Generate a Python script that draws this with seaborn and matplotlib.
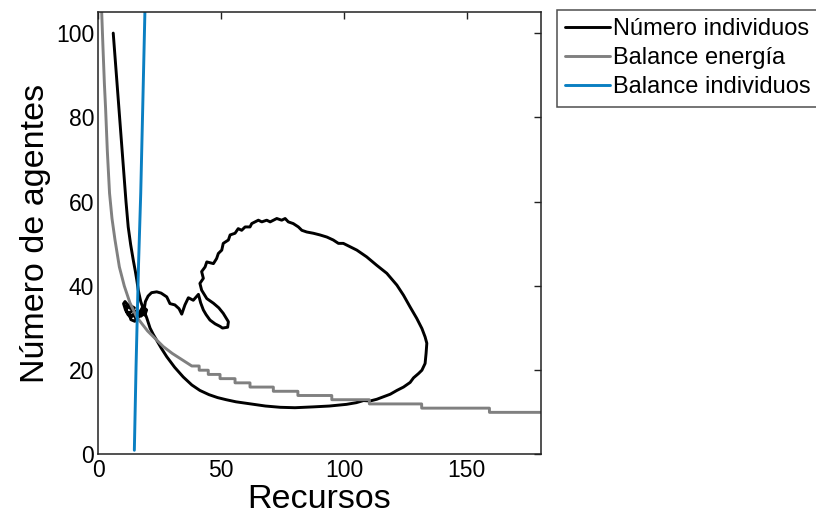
import numpy as np
import pandas as pd
import matplotlib
matplotlib.use("Agg")
import matplotlib.pyplot as plt
import seaborn as sns

# Simulated trajectory: resources (x) against number of agents (y)
traj_x = [6.0, 7.3, 8.6, 9.9, 11.2, 12.1, 13.1, 14.2, 15.0, 15.6, 16.2,
          17.2, 18.4, 19.6, 21.0, 22.3, 23.7, 25.6, 27.8, 31.0, 34.5, 38.0, 41.3, 45.0,
          48.5, 52.0, 56.0, 62.0, 68.0, 74.0, 80.0, 87.5, 94.0, 101.0, 105.0, 107.9,
          110.6, 113.3, 116.0, 118.8, 121.5, 124.2, 126.9, 128.3, 130.3, 131.7, 133.0,
          133.4, 133.7, 133.0, 131.7, 129.6, 126.9, 124.2, 121.5, 117.4, 113.3, 109.2,
          105.2, 102.4, 99.7, 97.7, 95.6, 93.0, 90.2, 87.5, 84.8, 82.8, 81.4, 79.3, 77.3,
          76.0, 74.6, 72.6, 69.9, 68.5, 66.5, 65.1, 63.7, 62.4, 61.7, 59.7, 58.3, 56.9,
          55.6, 53.6, 52.9, 50.8, 50.2, 48.8, 48.1, 46.8, 44.1, 43.4, 42.0, 42.7, 41.3,
          42.0, 44.1, 46.8, 49.0, 50.8, 52.9, 52.6, 50.5, 49.5, 47.5, 45.4, 43.8, 42.7,
          41.6, 40.7, 38.6, 36.6, 35.2, 33.9, 32.8, 31.1, 29.1, 27.8, 25.5, 23.7, 21.6,
          20.2, 19.1, 18.7, 19.6, 18.9, 17.6, 16.2, 14.6, 13.0, 12.0, 11.0, 10.2, 10.8,
          11.8, 12.8, 14.6, 13.6, 12.4, 13.2, 14.8, 16.4, 17.8, 18.6, 17.2, 15.8, 14.0,
          12.2, 11.2, 11.6, 13.0, 14.4, 15.2]
traj_y = [100.0, 90.0, 80.0, 70.0, 60.0, 54.0, 49.8, 46.0, 43.5, 41.4,
          39.0, 36.3, 34.3, 32.5, 30.0, 28.5, 27.1, 25.2, 23.2, 20.7, 18.4, 16.5, 15.2,
          14.2, 13.5, 13.0, 12.5, 12.0, 11.5, 11.2, 11.1, 11.3, 11.5, 11.9, 12.3, 12.8,
          12.7, 13.1, 13.7, 14.3, 15.2, 16.0, 17.1, 18.2, 19.2, 20.0, 21.6, 24.0, 26.4,
          27.9, 29.9, 32.3, 35.0, 37.8, 40.2, 43.0, 44.9, 46.9, 48.5, 49.3, 50.1, 50.1,
          50.9, 51.6, 52.1, 52.5, 52.8, 53.2, 54.0, 54.8, 55.2, 56.0, 55.6, 56.0, 55.2,
          55.6, 55.2, 55.6, 55.2, 54.8, 54.0, 54.0, 53.2, 53.6, 52.5, 52.1, 50.9, 50.1,
          48.5, 47.7, 46.5, 45.3, 45.7, 44.5, 43.4, 41.8, 40.6, 39.0, 37.0, 35.9, 34.8,
          33.5, 31.5, 30.2, 30.0, 30.4, 31.0, 31.9, 33.2, 34.3, 36.0, 38.0, 36.6, 37.2,
          35.5, 33.3, 34.6, 35.5, 35.8, 37.4, 38.3, 38.6, 38.4, 37.6, 36.3, 34.8, 34.3,
          33.1, 33.6, 32.6, 33.0, 32.6, 33.2, 34.3, 35.8, 36.3, 35.6, 35.4, 34.8, 34.0,
          33.6, 32.0, 31.6, 33.4, 34.8, 33.4, 32.8, 33.6, 34.4, 34.9, 35.2, 33.8, 32.9,
          33.3, 32.4]

# Energy-balance curve: smooth upper branch followed by integer steps
energy_x = [1.3, 1.8, 2.4, 2.9, 3.6, 4.5, 5.5, 6.7, 8.5, 10.5, 12.8, 15.6, 20.0, 26.4,
            30.0, 33.2, 38.0]
energy_y = [105.0, 97.0, 88.0, 82.0, 72.0, 62.0, 56.0, 51.0, 44.5, 40.0, 36.0, 32.6,
            29.3, 25.6, 24.0, 22.8, 21.0]
step_start = [38.0, 41.0, 44.7, 49.5, 55.6, 61.7, 71.2, 81.2, 95.0, 110.3, 131.6, 159.2]
step_level = [21, 20, 19, 18, 17, 16, 15, 14, 13, 12, 11, 10]
step_end_x = 180.0

# Individual-balance curve (almost vertical)
indiv_x = [14.6, 15.3, 15.8, 16.3, 17.2, 18.0, 18.9]
indiv_y = [1.0, 21.0, 33.0, 45.0, 62.0, 82.0, 105.0]

x_ticks = [0, 50, 100, 150]
y_ticks = [0, 20, 40, 60, 80, 100]

sns.set_style("white")
plt.rcParams["font.family"] = ["Liberation Sans", "DejaVu Sans"]
plt.rcParams.update({"text.color": "black", "axes.labelcolor": "black",
                     "xtick.color": "black", "ytick.color": "black"})

fig = plt.figure(figsize=(8.16, 5.16), dpi=100)
ax = fig.add_axes([0.1207, 0.1192, 0.5417, 0.8575])

# step vertices of the energy-balance curve
edges = step_start + [step_end_x]
sx, sy = [], []
for i, lvl in enumerate(step_level):
    sx += [edges[i], edges[i + 1]]
    sy += [lvl, lvl]
energy = pd.DataFrame({"x": energy_x + sx, "y": energy_y + sy})

traj = pd.DataFrame({"x": traj_x, "y": traj_y})
indiv = pd.DataFrame({"x": indiv_x, "y": indiv_y})

lw = 2.1
sns.lineplot(data=traj, x="x", y="y", sort=False, estimator=None, color="black",
             lw=lw, label="Número individuos", ax=ax)
sns.lineplot(data=energy, x="x", y="y", sort=False, estimator=None, color="#808080",
             lw=lw, label="Balance energía", ax=ax)
sns.lineplot(data=indiv, x="x", y="y", sort=False, estimator=None, color="#0a7fc2",
             lw=lw, label="Balance individuos", ax=ax)

ax.set_xlim(0, 180)
ax.set_ylim(0, 105)
ax.set_xticks(x_ticks)
ax.set_yticks(y_ticks)
ax.tick_params(direction="in", top=True, right=True, length=5, width=1,
               labelsize=16.5, color="#222222", pad=3)
for s in ax.spines.values():
    s.set_color("#222222")
    s.set_linewidth(1.1)

ax.set_xlabel("Recursos", fontsize=24.5, labelpad=2)
ax.set_ylabel("Número de agentes", fontsize=24.5, labelpad=4)

leg = ax.legend(loc="upper left", bbox_to_anchor=(0.6826, 0.9806),
                bbox_transform=fig.transFigure, frameon=True, fancybox=False,
                fontsize=17, handlelength=1.9, handletextpad=0.13, borderpad=0.35,
                labelspacing=0.3, borderaxespad=0)
leg.get_frame().set_edgecolor("#222222")
leg.get_frame().set_linewidth(1.1)

fig.savefig("out.png", dpi=100)
